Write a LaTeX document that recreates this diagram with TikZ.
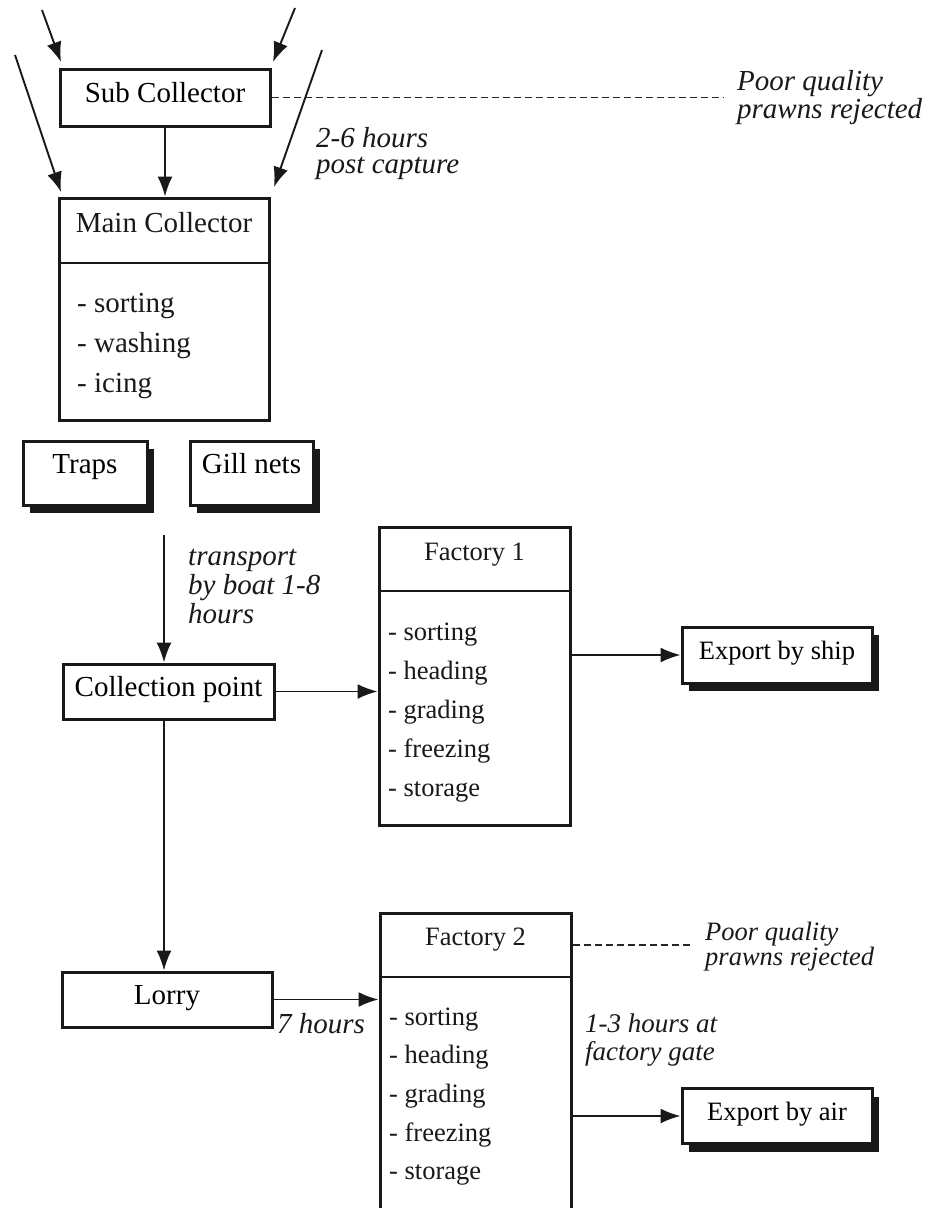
\documentclass[tikz,border=0pt]{standalone}
\usepackage{fontspec}
\setmainfont{Liberation Serif}
\usetikzlibrary{arrows.meta,shadows}
\newcommand\bigf{\fontsize{29}{29}\selectfont}
\newcommand\smallf{\fontsize{26.5}{26.5}\selectfont}
\newcommand\mylines[1]{\begin{tabular}[t]{@{}l@{}}#1\end{tabular}}
\begin{document}
\begin{tikzpicture}[x=1pt,y=-1pt,
  box/.style={draw=black!90, line width=3pt, fill=white, inner sep=0pt},
  shbox/.style={box, drop shadow={shadow xshift=7pt, shadow yshift=-8pt, fill=black!90, opacity=1}},
  onel/.style={text height=14pt, text depth=5pt},
  arr/.style={draw=black!90, line width=1.9pt, -{Latex[length=20pt,width=15pt]}},
  dsh/.style={draw=black!85, line width=1.8pt, dash pattern=on 7pt off 4pt},
  divl/.style={draw=black!90, line width=2.3pt},
  lbl/.style={inner sep=0pt, anchor=base west, text=black!90},
  ttl/.style={inner sep=0pt, anchor=base, text=black!90},
]
\useasboundingbox (0,0) rectangle (935,1208);
\clip (0,0) rectangle (935,1208);
\fill[white] (0,0) rectangle (935,1208);

% ---------- top part ----------
\node[box, onel, minimum width=210pt, minimum height=57pt, font=\bigf] (sub) at (165,97.5) {Sub Collector};
\node[box, minimum width=210pt, minimum height=222pt] (main) at (164,309) {};
\coordinate (mdiv) at (0,263);
\draw[divl] (main.west |- mdiv) -- (main.east |- mdiv);
\node[ttl, font=\bigf] (maint) at (164,232) {Main Collector};
\node[lbl, font=\fontsize{29}{40}\selectfont] (maini) at (77,312) {\mylines{- sorting\\- washing\\- icing}};

\coordinate (a1s) at (42,10);  \coordinate (a1e) at (61,62);
\coordinate (a2s) at (295,8);  \coordinate (a2e) at (273,62);
\coordinate (a3s) at (15,55);  \coordinate (a3e) at (61,192);
\coordinate (a4s) at (322,50); \coordinate (a4e) at (274,187);
\coordinate (d1) at (723,97.5);

\draw[dsh] (sub.east) -- (d1);
\draw[arr] (a1s) -- (a1e);
\draw[arr] (a2s) -- (a2e);
\draw[arr] (a3s) -- (a3e);
\draw[arr] (a4s) -- (a4e);
\draw[arr] (sub.south) -- (sub.south |- main.north);

\node[lbl, font=\itshape\fontsize{29}{27}\selectfont] (poor1) at (737,90) {\mylines{Poor quality\\prawns rejected}};
\node[lbl, font=\itshape\fontsize{29}{26.5}\selectfont] (hrs26) at (316,147) {\mylines{2-6 hours\\post capture}};

% ---------- gear ----------
\node[shbox, text height=10pt, text depth=10pt, minimum width=124pt, minimum height=64pt, font=\bigf] (traps) at (85,473) {Traps};
\node[shbox, text height=10pt, text depth=10pt, minimum width=123pt, minimum height=64pt, font=\bigf] (gill) at (251.5,473) {Gill nets};

% ---------- collection point ----------
\coordinate (t0) at (164,535);
\node[box, onel, minimum width=211pt, minimum height=55pt, font=\bigf] (coll) at (168.5,691.5) {Collection point};
\draw[arr] (t0) -- (t0 |- coll.north);
\node[lbl, font=\itshape\fontsize{29}{29}\selectfont] (trans) at (188,565) {\mylines{transport\\by boat 1-8\\hours}};

% ---------- factory 1 ----------
\node[box, minimum width=191pt, minimum height=298pt] (f1) at (474.5,676) {};
\coordinate (f1div) at (0,591);
\draw[divl] (f1.west |- f1div) -- (f1.east |- f1div);
\node[ttl, font=\smallf] (f1t) at (474.5,560) {Factory 1};
\node[lbl, font=\fontsize{26.5}{39}\selectfont] (f1i) at (388,640) {\mylines{- sorting\\- heading\\- grading\\- freezing\\- storage}};
\draw[arr] (coll.east) -- (coll.east -| f1.west);

\node[shbox, onel, minimum width=190pt, minimum height=56pt, font=\smallf] (ship) at (777,655) {Export by ship};
\draw[arr] (f1.east |- ship.west) -- (ship.west);

% ---------- lorry ----------
\node[box, onel, minimum width=210pt, minimum height=55pt, font=\bigf] (lorry) at (167,999.5) {Lorry};
\draw[arr] (t0 |- coll.south) -- (t0 |- lorry.north);
\node[lbl, font=\itshape\fontsize{29}{29}\selectfont] (h7) at (277,1033) {7 hours};

% ---------- factory 2 ----------
\node[box, minimum width=191pt, minimum height=330pt] (f2) at (475.5,1078) {};
\coordinate (f2div) at (0,977);
\draw[divl] (f2.west |- f2div) -- (f2.east |- f2div);
\node[ttl, font=\smallf] (f2t) at (475.5,945) {Factory 2};
\node[lbl, font=\fontsize{26.5}{38.7}\selectfont] (f2i) at (389,1025) {\mylines{- sorting\\- heading\\- grading\\- freezing\\- storage}};
\draw[arr] (lorry.east) -- (lorry.east -| f2.west);

\coordinate (d2) at (690,945);
\draw[dsh] (f2.east |- d2) -- (d2);
\node[lbl, font=\itshape\fontsize{26.5}{25}\selectfont] (poor2) at (705,940) {\mylines{Poor quality\\prawns rejected}};
\node[lbl, font=\itshape\fontsize{27}{28}\selectfont] (hrs13) at (585,1032) {\mylines{1-3 hours at\\factory gate}};

\node[shbox, onel, minimum width=190pt, minimum height=55pt, font=\smallf] (air) at (777,1116) {Export by air};
\draw[arr] (f2.east |- air.west) -- (air.west);
\end{tikzpicture}
\end{document}
